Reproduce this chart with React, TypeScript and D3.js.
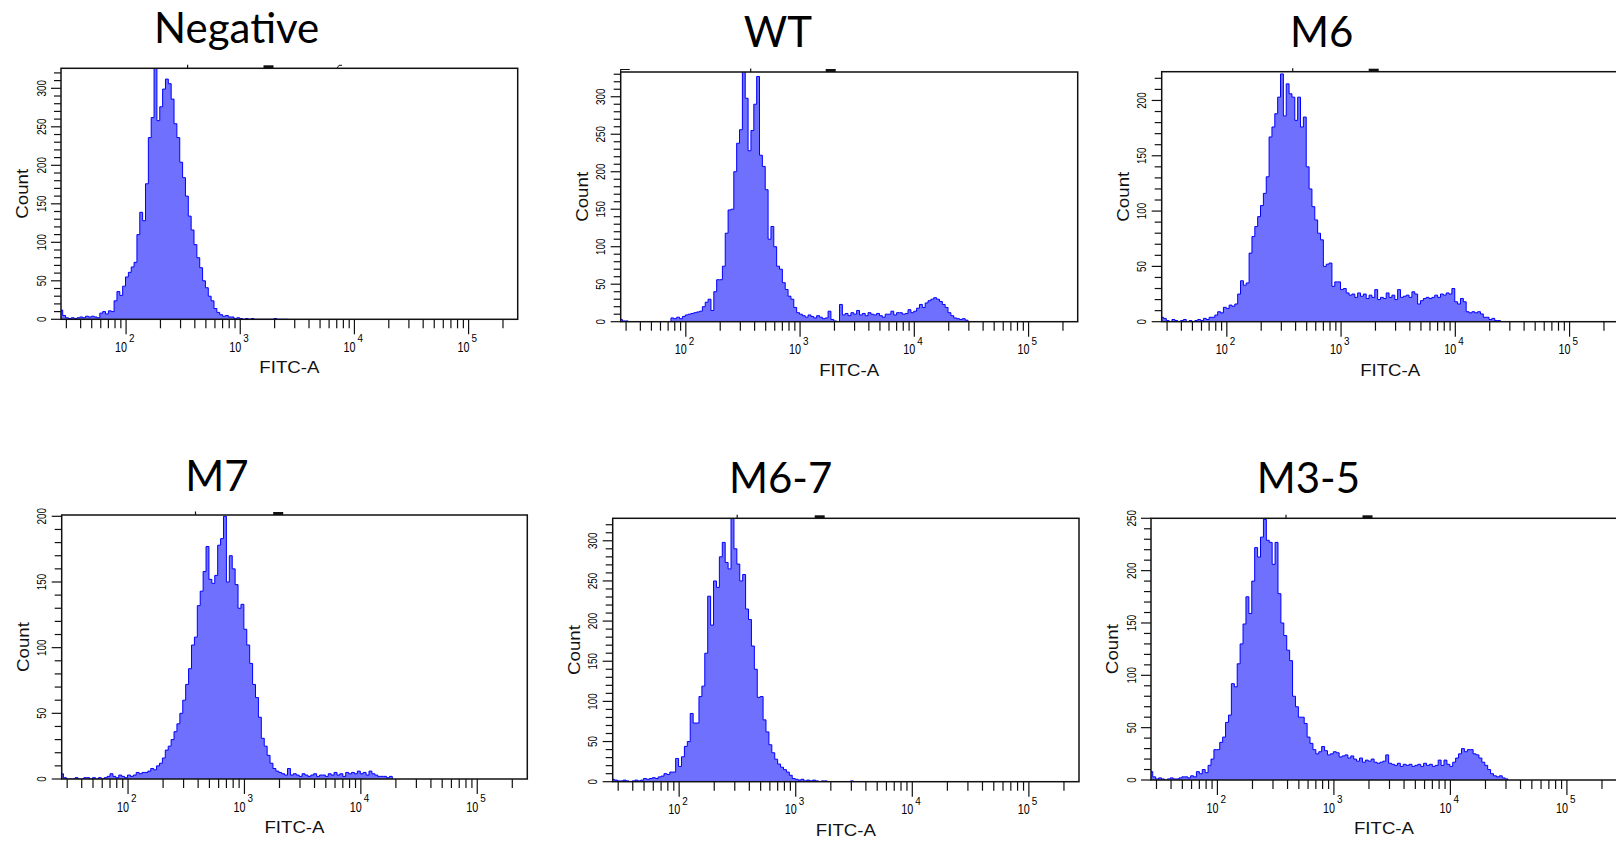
import React from 'react';
import * as d3 from 'd3';

// ---------- data ----------
const titles = ['Negative', 'WT', 'M6', 'M7', 'M6-7', 'M3-5'];
const xAxisLabel = 'FITC-A';
const yAxisLabel = 'Count';
const decadeLabels = [2, 3, 4, 5]; // 10^2 .. 10^5
const axisLogMin = 1.43;
const axisLogMax = 5.43;
const binStart = 1.42; // log10 of first bin's left edge
const binWidth = 0.025; // decades per bin

const negativeCounts = [
  12, 5, 2, 1, 2, 1, 2, 3, 2, 4,
  3, 4, 3, 2, 8, 10, 7, 11, 10, 24,
  36, 31, 43, 55, 61, 68, 74, 110, 139, 128,
  176, 236, 262, 326, 258, 276, 299, 312, 306, 286,
  254, 236, 204, 184, 160, 134, 116, 97, 80, 67,
  50, 41, 30, 24, 14, 9, 6, 4, 5, 3,
  3, 1, 2, 1, 0, 1, 0, 1, 0, 0,
  0, 0, 0, 0, 0, 1, 0, 0, 0, 0,
];
const wtCounts = [
  3, 1, 1, 0, 0, 0, 0, 0, 0, 0,
  0, 0, 0, 0, 0, 0, 0, 0, 5, 4,
  6, 4, 7, 9, 10, 11, 12, 13, 14, 20,
  26, 30, 15, 40, 56, 56, 74, 118, 149, 150,
  200, 238, 256, 334, 298, 228, 255, 290, 327, 222,
  207, 176, 110, 127, 100, 74, 70, 52, 43, 34,
  30, 19, 12, 10, 8, 6, 9, 7, 5, 8,
  6, 4, 5, 14, 3, 1, 0, 23, 9, 11,
  8, 12, 10, 15, 9, 11, 8, 12, 10, 9,
  11, 8, 6, 10, 10, 14, 9, 12, 12, 10,
  11, 16, 12, 14, 18, 23, 19, 25, 28, 30,
  32, 30, 27, 23, 19, 12, 8, 5, 4, 3,
  4, 2,
];
const m6Counts = [
  4, 3, 1, 0, 2, 1, 0, 1, 2, 0,
  1, 0, 1, 2, 1, 3, 2, 4, 4, 6,
  9, 8, 13, 12, 15, 14, 16, 25, 37, 33,
  35, 62, 77, 86, 95, 105, 116, 131, 167, 176,
  188, 203, 224, 186, 215, 206, 203, 182, 203, 176,
  185, 140, 120, 104, 92, 80, 74, 50, 52, 53,
  32, 36, 36, 29, 30, 26, 24, 25, 22, 26,
  23, 25, 21, 24, 22, 29, 20, 22, 21, 26,
  22, 24, 20, 29, 22, 23, 24, 22, 27, 25,
  16, 19, 21, 22, 21, 22, 24, 22, 25, 24,
  26, 25, 30, 18, 16, 21, 18, 9, 8, 9,
  8, 9, 7, 4, 4, 2, 3, 1, 1, 0,
];
const m7Counts = [
  4, 1, 0, 0, 0, 1, 0, 0, 1, 1,
  0, 1, 0, 1, 0, 1, 2, 4, 2, 1,
  3, 2, 1, 3, 2, 3, 5, 4, 5, 5,
  6, 8, 7, 10, 12, 16, 22, 25, 30, 36,
  42, 50, 60, 72, 84, 102, 108, 132, 143, 158,
  177, 152, 149, 155, 178, 183, 200, 150, 170, 160,
  148, 130, 133, 114, 102, 88, 72, 62, 47, 31,
  25, 18, 12, 8, 6, 5, 4, 3, 8, 3,
  4, 3, 2, 4, 3, 2, 3, 4, 2, 3,
  3, 2, 4, 3, 5, 3, 4, 2, 5, 4,
  5, 4, 6, 4, 5, 3, 6, 4, 3, 2,
  2, 2, 1, 2,
];
const m67Counts = [
  3, 2, 1, 1, 2, 1, 0, 1, 2, 1,
  2, 4, 3, 4, 5, 4, 6, 7, 10, 9,
  12, 12, 29, 19, 31, 44, 50, 85, 73, 73,
  106, 119, 160, 231, 195, 250, 242, 280, 298, 273,
  265, 329, 290, 271, 250, 258, 215, 202, 169, 140,
  105, 106, 77, 62, 46, 36, 28, 22, 18, 15,
  12, 8, 4, 3, 2, 3, 1, 2, 1, 2,
  1, 0, 1, 1, 0, 0, 0, 0, 0, 0,
  0, 0, 1,
];
const m35Counts = [
  8, 3, 1, 2, 1, 0, 1, 2, 1, 1,
  2, 3, 3, 2, 4, 3, 8, 6, 10, 7,
  14, 20, 29, 29, 36, 41, 55, 62, 92, 89,
  111, 130, 149, 175, 159, 190, 222, 213, 232, 249,
  229, 227, 206, 227, 178, 150, 138, 124, 114, 80,
  70, 60, 60, 54, 41, 35, 29, 25, 27, 32,
  28, 24, 25, 27, 26, 22, 23, 24, 21, 23,
  20, 18, 21, 17, 19, 18, 20, 17, 16, 17,
  18, 24, 16, 15, 14, 16, 13, 15, 14, 15,
  13, 14, 15, 13, 16, 14, 15, 13, 14, 19,
  14, 19, 15, 13, 17, 21, 25, 30, 27, 29,
  29, 25, 24, 21, 17, 14, 10, 6, 4, 3,
  4, 2, 1,
];
const countSeries = [negativeCounts, wtCounts, m6Counts, m7Counts, m67Counts, m35Counts];
const yMaxes = [326, 333, 226, 201, 328, 250];

// ---------- layout ----------
const panels = [
  { left: 61, top: 68.3, bottom: 319.3, width: 456.7, tx: 236.7, ty: 43.3, marks: [126.6, 207.5], slash: 278, notch: false },
  { left: 620.7, top: 72, bottom: 321.7, width: 457, tx: 778, ty: 46.7, marks: [130, 210], slash: 0, notch: true },
  { left: 1161.7, top: 71.7, bottom: 321.7, width: 457, tx: 1321.6, ty: 46.7, marks: [131, 212], slash: 0, notch: false },
  { left: 61.7, top: 515, bottom: 779, width: 465.6, tx: 216.9, ty: 491, marks: [133.8, 216.5], slash: 0, notch: false },
  { left: 612.7, top: 518.3, bottom: 781.7, width: 466.3, tx: 780.6, ty: 493.3, marks: [124.5, 207], slash: 0, notch: false },
  { left: 1151, top: 518.3, bottom: 780, width: 466, tx: 1308.4, ty: 493.3, marks: [135, 216.5], slash: 0, notch: false },
];

const FILL = '#7070ff';
const LINE = '#0000ff';
const AXIS = '#111';
const SMALL_FONT = '"Liberation Sans", Arial, sans-serif';

function Panel({ p, counts, yMax, title, idx }: any) {
  const x = d3.scaleLog().domain([10 ** axisLogMin, 10 ** axisLogMax]).range([p.left, p.left + p.width]);
  const y = d3.scaleLinear().domain([0, yMax]).range([p.bottom, p.top]);
  const pts: [number, number][] = counts.map((c: number, i: number) => [10 ** (binStart + i * binWidth), c]);
  pts.push([10 ** (binStart + counts.length * binWidth), 0]);
  const area = d3.area<[number, number]>().x(d => x(d[0])).y0(y(0)).y1(d => y(d[1])).curve(d3.curveStepAfter);
  const line = d3.line<[number, number]>().x(d => x(d[0])).y(d => y(d[1])).curve(d3.curveStepAfter);

  const xTicks: { v: number; major: boolean }[] = [];
  for (let k = 1; k <= 5; k++) {
    for (let m = 1; m <= 9; m++) {
      const v = m * 10 ** k;
      const lv = Math.log10(v);
      if (lv >= axisLogMin - 1e-9 && lv <= axisLogMax) xTicks.push({ v, major: m === 1 });
    }
  }
  const yTicks = d3.range(0, yMax + 0.001, 10);
  const clipId = `clip-${idx}`;
  const cx = p.left + p.width / 2;
  const cy = (p.top + p.bottom) / 2;

  return (
    <g>
      <defs>
        <clipPath id={clipId}>
          <rect x={p.left} y={p.top} width={p.width} height={p.bottom - p.top} />
        </clipPath>
      </defs>
      <text x={p.tx} y={p.ty} textAnchor="middle" fontFamily="Lato, 'Open Sans', sans-serif" fontSize={42} fill="#000">
        {title}
      </text>
      {/* small header remnants above the frame */}
      <line x1={p.left + p.marks[0]} x2={p.left + p.marks[0]} y1={p.top - 3.5} y2={p.top} stroke={AXIS} strokeWidth={1.2} />
      <rect x={p.left + p.marks[1] - 5} y={p.top - 3} width={10} height={3} fill={AXIS} />
      {p.slash ? (
        <path d={`M${p.left + p.slash - 2},${p.top} L${p.left + p.slash},${p.top - 3} L${p.left + p.slash + 3},${p.top - 3}`} stroke={AXIS} strokeWidth={1} fill="none" />
      ) : null}
      {p.notch ? (
        <path d={`M${p.left},${p.top} L${p.left},${p.top - 2.5} L${p.left + 9},${p.top - 2.5}`} stroke={AXIS} strokeWidth={1.2} fill="none" />
      ) : null}
      <g clipPath={`url(#${clipId})`}>
        <path d={area(pts) || ''} fill={FILL} stroke="none" />
        <path d={line(pts) || ''} fill="none" stroke={LINE} strokeWidth={1} />
      </g>
      <rect x={p.left} y={p.top} width={p.width} height={p.bottom - p.top} fill="none" stroke={AXIS} strokeWidth={1.5} />
      {/* y axis */}
      {yTicks.map(v => {
        const major = v % 50 === 0;
        return (
          <line key={`y${v}`} x1={p.left - (major ? 10 : 7)} x2={p.left} y1={y(v)} y2={y(v)} stroke={AXIS} strokeWidth={1.2} />
        );
      })}
      {yTicks.filter(v => v % 50 === 0).map(v => {
        const s = String(v);
        return (
          <text key={`yl${v}`} transform={`translate(${p.left - 15.5},${y(v)}) rotate(-90)`} textAnchor="middle"
            fontFamily={SMALL_FONT} fontSize={12} fill="#000" textLength={s.length * 5.5} lengthAdjust="spacingAndGlyphs">
            {s}
          </text>
        );
      })}
      <text transform={`translate(${p.left - 33},${cy}) rotate(-90)`} textAnchor="middle" fontFamily={SMALL_FONT}
        fontSize={17} fill="#111" textLength={50} lengthAdjust="spacingAndGlyphs">
        {yAxisLabel}
      </text>
      {/* x axis */}
      {xTicks.map(t => (
        <line key={`x${t.v}`} x1={x(t.v)} x2={x(t.v)} y1={p.bottom} y2={p.bottom + (t.major ? 15 : 9)} stroke={AXIS} strokeWidth={1.2} />
      ))}
      {decadeLabels.map(e => {
        const px = x(10 ** e);
        return (
          <g key={`xl${e}`} fontFamily={SMALL_FONT} fill="#000">
            <text x={px + 1} y={p.bottom + 32.5} textAnchor="end" fontSize={14} textLength={12} lengthAdjust="spacingAndGlyphs">10</text>
            <text x={px + 3} y={p.bottom + 23} textAnchor="start" fontSize={10.5} textLength={5.5} lengthAdjust="spacingAndGlyphs">{e}</text>
          </g>
        );
      })}
      <text x={cx} y={p.bottom + 54} textAnchor="middle" fontFamily={SMALL_FONT} fontSize={17} fill="#111"
        textLength={60} lengthAdjust="spacingAndGlyphs">
        {xAxisLabel}
      </text>
    </g>
  );
}

export default function App() {
  return (
    <svg width={1616} height={844} viewBox="0 0 1616 844"
      style={{ position: 'absolute', left: 0, top: 0, display: 'block', background: '#fff' }}>
      <rect x={0} y={0} width={1616} height={844} fill="#fff" />
      {panels.map((p, i) => (
        <Panel key={titles[i]} p={p} counts={countSeries[i]} yMax={yMaxes[i]} title={titles[i]} idx={i} />
      ))}
    </svg>
  );
}
